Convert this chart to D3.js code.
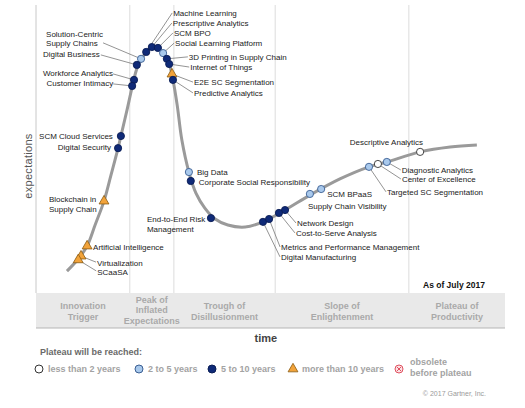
<!DOCTYPE html>
<html><head><meta charset="utf-8">
<script src="https://cdn.jsdelivr.net/npm/d3@7"></script>
<style>
html,body{margin:0;padding:0;background:#fff;}
svg{display:block;font-family:"Liberation Sans",Arial,sans-serif;}
</style></head>
<body><svg id="c" width="525" height="408"></svg>
<script>
// Hype curve (time, expectations)
const curveTime = [6.6,9.0,10.9,12.6,14.5,16.0,17.5,18.1,19.4,20.5,21.7,23.5,24.7,26.0,27.1,28.4,29.2,30.1,31.1,32.6,34.1,36.0,38.2,40.9,44.6,48.4,53.1,58.4,64.8,71.0,74.8,81.9,88.3,94.0];
const curveExp  = [7.6,11.8,16.3,23.6,31.9,41.0,50.3,54.5,63.5,71.5,78.8,83.7,85.4,85.1,83.3,79.5,74.0,65.3,53.1,42.0,34.7,29.5,25.7,23.6,22.9,24.7,28.8,34.0,39.6,43.8,45.5,49.0,50.7,51.4];

// Technologies
const techNames = ["Machine Learning","Prescriptive Analytics","SCM BPO","Social Learning Platform","3D Printing in Supply Chain","Internet of Things","E2E SC Segmentation","Predictive Analytics","Solution-Centric|Supply Chains","Digital Business","Workforce Analytics","Customer Intimacy","SCM Cloud Services","Digital Security","Blockchain in|Supply Chain","Artificial Intelligence","Virtualization","SCaaSA","Big Data","Corporate Social Responsibility","End-to-End Risk|Management","Digital Manufacturing","Metrics and Performance Management","Network Design","Cost-to-Serve Analysis","SCM BPaaS","Supply Chain Visibility","Targeted SC Segmentation","Center of Excellence","Diagnostic Analytics","Descriptive Analytics"];
const techTime = [23.5,24.7,26.0,27.1,27.9,28.4,29.0,29.2,22.4,21.5,20.9,20.5,18.1,17.5,14.5,10.9,9.6,9.0,32.6,33.0,37.3,48.4,49.7,53.1,51.8,60.8,58.4,71.0,72.9,74.8,81.9];
const techExp  = [83.7,85.4,85.1,83.3,81.3,79.5,76.0,74.0,81.3,79.2,74.0,71.9,54.5,50.3,31.9,16.3,12.8,11.5,42.0,38.9,26.0,24.7,25.7,28.8,27.8,36.1,34.4,43.8,44.8,45.5,49.0];
// plateau category: 0 <2y, 1 2-5y, 2 5-10y, 3 >10y
const techCat  = [2,2,2,1,2,2,3,2,1,2,2,2,2,2,3,3,3,3,1,2,2,2,2,2,2,1,1,1,0,1,0];

// Phases
const phaseBounds = [0,20.0,29.4,51.0,79.5,100];
const phaseNames = ["Innovation|Trigger","Peak of|Inflated|Expectations","Trough of|Disillusionment","Slope of|Enlightenment","Plateau of|Productivity"];

// Legend
const legendLabels = ["less than 2 years","2 to 5 years","5 to 10 years","more than 10 years","obsolete|before plateau"];

// label layout: [dx, dy, anchor, leaderDx, leaderDy]
const labelLayout = [
 [27,-36,"start",26,-39],[21,-21,"start",20,-24],[16,-12,"start",15,-15],[12,-7,"start",11,-10],
 [22,1,"start",21,-2],[21,6,"start",20,3],[22,11,"start",21,8],[21,16,"start",20,13],
 [-95,-22,"start",-38,-16],[-37,-8,"end",-36,-10],[-21,-4,"end",-21,-6],[-19,0,"end",-19,-2],
 [-8,3,"end",null,null],[-7,2,"end",null,null],[-55,1,"start",null,null],[6,4,"start",null,null],
 [16,10,"start",15,6],[19,15,"start",18,11],[8,3,"start",null,null],[8,4,"start",null,null],
 [-64,4,"start",null,null],[18,38,"start",17,35],[12,31,"start",11,28],[12,16,"start",11,13],
 [17,23,"start",16,20],[6,8,"start",null,null],[-2,15,"start",null,null],[18,28,"start",17,25],
 [24,18,"start",23,15],[15,11,"start",14,8],[3,-7,"end",null,null]
];

const svg = d3.select("#c");
const x = d3.scaleLinear().domain([0,100]).range([36,505]);
const y = d3.scaleLinear().domain([0,100]).range([293,5]);

const fills = ["#ffffff","#a9c9ec","#0f2a78","#f2a33a"];
const strokes = ["#333333","#3b5f93","#0a1d55","#8a5a10"];

// dividers
svg.selectAll("line.div").data(phaseBounds.slice(1,5)).enter().append("line")
  .attr("x1",d=>x(d)).attr("x2",d=>x(d)).attr("y1",y(100)).attr("y2",y(0))
  .attr("stroke","#dcdcdc").attr("stroke-width",1);
// y axis
svg.append("line").attr("x1",x(0)).attr("x2",x(0)).attr("y1",y(100)).attr("y2",y(0))
  .attr("stroke","#c8c8c8").attr("stroke-width",1);

// phase band
svg.append("rect").attr("x",x(0)).attr("y",y(0)).attr("width",x(100)-x(0)).attr("height",35)
  .attr("fill","#e9e9e9");
svg.append("line").attr("x1",x(0)).attr("x2",x(100)).attr("y1",y(0)+35).attr("y2",y(0)+35)
  .attr("stroke","#b5b5b5").attr("stroke-width",1);
phaseNames.forEach((n,i)=>{
  const lines=n.split("|");
  const cx=x((phaseBounds[i]+phaseBounds[i+1])/2);
  const t=svg.append("text").attr("text-anchor","middle").attr("font-size",9).attr("font-weight","bold")
    .attr("fill","#a9a9a9");
  const y0 = lines.length===3?302.5:309;
  lines.forEach((l,j)=>t.append("tspan").attr("x",cx).attr("y",y0+j*10.5).text(l));
});

// axis titles
svg.append("text").attr("x",x(49)).attr("y",342).attr("text-anchor","middle").attr("font-size",11)
  .attr("font-weight","bold").attr("fill","#444").text("time");
svg.append("text").attr("transform","translate(32,166) rotate(-90)").attr("text-anchor","middle")
  .attr("font-size",11).attr("fill","#555").attr("letter-spacing",0.3).text("expectations");

svg.append("text").attr("x",423).attr("y",288).attr("font-size",8.5).attr("fill","#111")
  .attr("font-weight","bold").text("As of July 2017");

// curve
const pts = curveTime.map((t,i)=>[t,curveExp[i]]);
svg.append("path").datum(pts)
  .attr("d",d3.line().x(d=>x(d[0])).y(d=>y(d[1])).curve(d3.curveCatmullRom.alpha(0.5)))
  .attr("fill","none").attr("stroke","#9a9a9a").attr("stroke-width",3);

const tech = techNames.map((n,i)=>({n,t:techTime[i],e:techExp[i],c:techCat[i],L:labelLayout[i]}));

// leaders
svg.selectAll("line.lead").data(tech.filter(d=>d.L[3]!==null)).enter().append("line")
  .attr("x1",d=>x(d.t)).attr("y1",d=>y(d.e))
  .attr("x2",d=>x(d.t)+d.L[3]).attr("y2",d=>y(d.e)+d.L[4])
  .attr("stroke","#666").attr("stroke-width",0.7);

// markers
const tri = d3.symbol().type(d3.symbolTriangle).size(42);
tech.forEach(d=>{
  if(d.c===3){
    svg.append("path").attr("d",tri).attr("transform",`translate(${x(d.t)},${y(d.e)})`)
      .attr("fill",fills[3]).attr("stroke",strokes[3]).attr("stroke-width",0.8);
  } else {
    svg.append("circle").attr("cx",x(d.t)).attr("cy",y(d.e)).attr("r",3.6)
      .attr("fill",fills[d.c]).attr("stroke",strokes[d.c]).attr("stroke-width",0.9);
  }
});

// labels
tech.forEach(d=>{
  const lines=d.n.split("|");
  const px=x(d.t)+d.L[0], py=y(d.e)+d.L[1];
  const t=svg.append("text").attr("font-size",8).attr("fill","#222").attr("text-anchor",d.L[2]);
  lines.forEach((l,j)=>t.append("tspan").attr("x",px).attr("y",py+j*9.5).text(l));
});

// legend
svg.append("text").attr("x",40).attr("y",355).attr("font-size",9).attr("font-weight","bold")
  .attr("fill","#6a6a6a").text("Plateau will be reached:");
const legX=[39,139,212,293,399];
legendLabels.forEach((l,i)=>{
  const cx=legX[i], cy=369;
  if(i<3){
    svg.append("circle").attr("cx",cx).attr("cy",cy).attr("r",4).attr("fill",fills[i])
      .attr("stroke",strokes[i]).attr("stroke-width",1);
  } else if(i===3){
    svg.append("path").attr("d",tri).attr("transform",`translate(${cx},${cy})`)
      .attr("fill",fills[3]).attr("stroke",strokes[3]).attr("stroke-width",0.8);
  } else {
    svg.append("circle").attr("cx",cx).attr("cy",cy).attr("r",4).attr("fill","#fbe3e6")
      .attr("stroke","#e0505f").attr("stroke-width",1);
    svg.append("path").attr("d",`M${cx-2},${cy-2}L${cx+2},${cy+2}M${cx+2},${cy-2}L${cx-2},${cy+2}`)
      .attr("stroke","#e0505f").attr("stroke-width",1);
  }
  const lines=l.split("|");
  const t=svg.append("text").attr("font-size",9).attr("font-weight","bold").attr("fill","#a3a3a3");
  const y0 = lines.length>1?365:372;
  lines.forEach((s,j)=>t.append("tspan").attr("x",cx+(i===4?11:9)).attr("y",y0+j*11).text(s));
});

svg.append("text").attr("x",486).attr("y",396).attr("text-anchor","end").attr("font-size",7)
  .attr("fill","#9a9a9a").text("© 2017 Gartner, Inc.");
</script></body></html>
